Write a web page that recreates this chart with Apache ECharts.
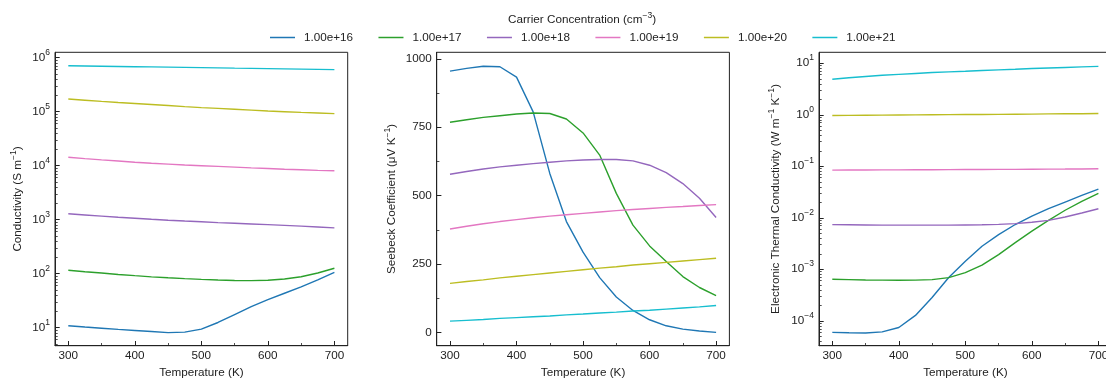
<!DOCTYPE html>
<html>
<head>
<meta charset="utf-8">
<script src="https://cdn.jsdelivr.net/npm/echarts@6/dist/echarts.min.js"></script>
<style>
html, body { margin: 0; padding: 0; background: #fff; }
#main { width: 1106px; height: 381px; }
</style>
</head>
<body>
<div id="main"></div>
<script>
// temperatures (K)
var temperature = [300, 325, 350, 375, 400, 425, 450, 475, 500, 525, 550, 575, 600, 625, 650, 675, 700];
var concentrations = ['1.00e+16', '1.00e+17', '1.00e+18', '1.00e+19', '1.00e+20', '1.00e+21'];

// conductivity (S m^-1)
var cond16 = [10.9, 10.3, 9.8, 9.3, 8.9, 8.5, 8.1, 8.3, 9.4, 12.5, 17.5, 24.5, 33, 43.5, 57, 77, 106];
var cond17 = [116, 109, 103, 97, 92, 87.5, 84, 81, 78.5, 76.5, 75, 74.5, 75.5, 80, 88, 103, 126];
var cond18 = [1290, 1225, 1165, 1110, 1065, 1020, 980, 945, 915, 885, 860, 835, 810, 785, 760, 735, 705];
var cond19 = [14300, 13500, 12800, 12200, 11600, 11100, 10700, 10300, 10000, 9700, 9400, 9100, 8850, 8600, 8400, 8200, 8050];
var cond20 = [172000, 163000, 155000, 148000, 142000, 136000, 130000, 124000, 119000, 115000, 111000, 107000, 103000, 100000, 97000, 94500, 92000];
var cond21 = [710000, 703000, 696000, 689000, 682000, 675000, 668000, 661000, 654000, 647000, 640000, 634000, 628000, 621000, 615000, 608000, 602000];

// seebeck coefficient (uV K^-1)
var seeb16 = [955, 965, 973, 971, 933, 806, 581, 405, 293, 200, 129, 80, 46, 24, 12, 5, 0];
var seeb17 = [768, 777, 786, 792, 798, 802, 800, 780, 729, 648, 508, 392, 316, 259, 204, 164, 134];
var seeb18 = [578, 588, 597, 605, 611, 617, 622, 627, 630, 632, 632, 627, 611, 584, 544, 490, 420];
var seeb19 = [378, 388, 397, 405, 412, 419, 425, 430, 435, 440, 445, 449, 453, 457, 460, 464, 467];
var seeb20 = [179, 186, 192, 199, 205, 211, 217, 223, 229, 235, 240, 246, 251, 256, 261, 266, 271];
var seeb21 = [41, 44, 47, 51, 54, 57, 60, 64, 67, 71, 74, 78, 81, 85, 89, 93, 98];

// electronic thermal conductivity (W m^-1 K^-1)
var kap16 = [5.94e-5, 5.86e-5, 5.8e-5, 6.1e-5, 7.4e-5, 1.27e-4, 2.83e-4, 6.9e-4, 1.43e-3, 2.8e-3, 4.7e-3, 7.4e-3, 1.08e-2, 1.5e-2, 2.02e-2, 2.72e-2, 3.61e-2];
var kap17 = [6.4e-4, 6.3e-4, 6.2e-4, 6.15e-4, 6.14e-4, 6.15e-4, 6.3e-4, 6.9e-4, 8.6e-4, 1.2e-3, 1.93e-3, 3.3e-3, 5.5e-3, 8.9e-3, 1.4e-2, 2.09e-2, 2.98e-2];
var kap18 = [7.36e-3, 7.3e-3, 7.25e-3, 7.2e-3, 7.2e-3, 7.2e-3, 7.2e-3, 7.2e-3, 7.25e-3, 7.3e-3, 7.45e-3, 7.7e-3, 8.17e-3, 8.9e-3, 1.035e-2, 1.24e-2, 1.5e-2];
var kap19 = [0.0843, 0.0845, 0.0848, 0.085, 0.0853, 0.0856, 0.0858, 0.086, 0.0863, 0.0866, 0.0869, 0.0872, 0.0876, 0.0879, 0.0883, 0.0888, 0.0893];
var kap20 = [0.97, 0.975, 0.98, 0.985, 0.99, 0.995, 1.0, 1.005, 1.01, 1.015, 1.02, 1.025, 1.03, 1.04, 1.045, 1.05, 1.06];
var kap21 = [4.9, 5.25, 5.55, 5.85, 6.1, 6.35, 6.6, 6.8, 7.0, 7.25, 7.45, 7.65, 7.9, 8.1, 8.3, 8.5, 8.7];

// tick labels
var tempTicks = [300, 400, 500, 600, 700];
var tempMinor = [350, 450, 550, 650];
var condTicks = [10, 100, 1000, 10000, 100000, 1000000];
var seebTicks = [0, 250, 500, 750, 1000];
var seebMinor = [125, 375, 625, 875];
var kapTicks = [1e-4, 1e-3, 1e-2, 1e-1, 1, 10];

var panels = [
    [cond16, cond17, cond18, cond19, cond20, cond21],
    [seeb16, seeb17, seeb18, seeb19, seeb20, seeb21],
    [kap16, kap17, kap18, kap19, kap20, kap21]
];

var FONT = 'Liberation Sans';
var FS = 11.7;
var ink = '#222';
var colors = ['#1f77b4', '#2ca02c', '#9467bd', '#e377c2', '#bcbd22', '#17becf'];
var MINUS = '\u2212';

var supRich = { s: { fontFamily: FONT, fontSize: 8.5, color: ink, verticalAlign: 'top', lineHeight: 10 } };

// minor ticks of a log axis (2..9 x 10^n)
function logMinor(lo, hi) {
    var out = [];
    for (var d = Math.floor(Math.log10(lo)); d <= Math.ceil(Math.log10(hi)); d++) {
        for (var m = 2; m <= 9; m++) {
            var v = m * Math.pow(10, d);
            if (v > lo && v < hi) out.push(v);
        }
    }
    return out;
}

function powLabel(v) {
    var e = Math.round(Math.log10(v));
    return '10{s|' + (e < 0 ? MINUS + (-e) : e) + '}';
}

var gridTop = 52.3, gridH = 293.4, gridW = 292.7;
var grids = [
    { left: 55, top: gridTop, width: gridW, height: gridH },
    { left: 436.7, top: gridTop, width: gridW, height: gridH },
    { left: 819, top: gridTop, width: gridW, height: gridH }
].map(function (g) {
    g.show = true;
    g.borderColor = ink;
    g.borderWidth = 1;
    g.outerBoundsMode = 'none';
    return g;
});

var yDefs = [
    { type: 'log', min: Math.pow(10, 0.667), max: Math.pow(10, 6.1), ticks: condTicks,
      name: 'Conductivity (S m{s|' + MINUS + '1})', gap: 28 },
    { type: 'value', min: -48.75, max: 1023.75, ticks: seebTicks, minor: seebMinor,
      name: 'Seebeck Coefficient (\u03bcV K{s|' + MINUS + '1})', gap: 36 },
    { type: 'log', min: Math.pow(10, -4.484), max: Math.pow(10, 1.213), ticks: kapTicks,
      name: 'Electronic Thermal Conductivity (W m{s|' + MINUS + '1} K{s|' + MINUS + '1})', gap: 34 }
];

var xAxes = [], yAxes = [], series = [];

grids.forEach(function (g, gi) {
    xAxes.push({
        type: 'value', gridIndex: gi, position: 'bottom', offset: 0, min: 280, max: 720,
        name: 'Temperature (K)', nameLocation: 'middle', nameGap: 20,
        nameTextStyle: { fontFamily: FONT, fontSize: FS, color: ink },
        axisLine: { show: true, onZero: false, lineStyle: { color: ink, width: 1 } },
        axisTick: { show: true, inside: true, length: 4.7, customValues: tempTicks, lineStyle: { color: ink, width: 1 } },
        axisLabel: { show: true, margin: 4, customValues: tempTicks, fontFamily: FONT, fontSize: FS, color: ink,
                     formatter: function (v) { return String(v); } },
        splitLine: { show: false }
    });
    xAxes.push({
        type: 'value', gridIndex: gi, position: 'bottom', offset: 0, min: 280, max: 720,
        axisLine: { show: false, onZero: false },
        axisTick: { show: true, inside: true, length: 2.7, customValues: tempMinor, lineStyle: { color: ink, width: 0.8 } },
        axisLabel: { show: false },
        splitLine: { show: false }
    });

    var d = yDefs[gi];
    var isLog = d.type === 'log';
    yAxes.push({
        type: d.type, gridIndex: gi, position: 'left', offset: 0, min: d.min, max: d.max,
        name: d.name, nameLocation: 'middle', nameGap: d.gap,
        nameTextStyle: { fontFamily: FONT, fontSize: FS, color: ink, lineHeight: 18, rich: supRich },
        axisLine: { show: true, onZero: false, lineStyle: { color: ink, width: 1 } },
        axisTick: { show: true, inside: true, length: 4.7, customValues: d.ticks, lineStyle: { color: ink, width: 1 } },
        axisLabel: {
            show: true, margin: 5, customValues: d.ticks, fontFamily: FONT, fontSize: FS, color: ink,
            lineHeight: 20,
            formatter: isLog ? powLabel : function (v) { return String(v); },
            rich: supRich
        },
        splitLine: { show: false }
    });
    yAxes.push({
        type: d.type, gridIndex: gi, position: 'left', offset: 0, min: d.min, max: d.max,
        axisLine: { show: false, onZero: false },
        axisTick: { show: true, inside: true, length: 2.7, customValues: isLog ? logMinor(d.min, d.max) : d.minor,
                    lineStyle: { color: ink, width: 0.8 } },
        axisLabel: { show: false },
        splitLine: { show: false }
    });

    panels[gi].forEach(function (vals, si) {
        series.push({
            name: concentrations[si],
            type: 'line',
            xAxisIndex: gi * 2,
            yAxisIndex: gi * 2,
            data: temperature.map(function (t, i) { return [t, vals[i]]; }),
            symbol: 'none',
            showSymbol: false,
            lineStyle: { width: 1.4, color: colors[si] },
            itemStyle: { color: colors[si] },
            z: 3
        });
    });
});

var option = {
    animation: false,
    backgroundColor: '#fff',
    color: colors,
    title: {
        text: 'Carrier Concentration (cm{s|' + MINUS + '3})',
        left: 508, top: 11, padding: 0,
        textStyle: { fontFamily: FONT, fontSize: FS, fontWeight: 'normal', color: ink, lineHeight: 18, rich: supRich }
    },
    legend: {
        data: concentrations,
        left: 270, top: 31.5, padding: 0,
        icon: 'path://M0,0 L25,0 L25,1.5 L0,1.5 Z',
        itemWidth: 25, itemHeight: 14, itemGap: 25.4,
        textStyle: { fontFamily: FONT, fontSize: FS, color: ink, padding: [0, 0, 0, 4] }
    },
    grid: grids,
    xAxis: xAxes,
    yAxis: yAxes,
    series: series
};

var myChart = echarts.init(document.getElementById('main'));
myChart.setOption(option);
</script>
</body>
</html>
